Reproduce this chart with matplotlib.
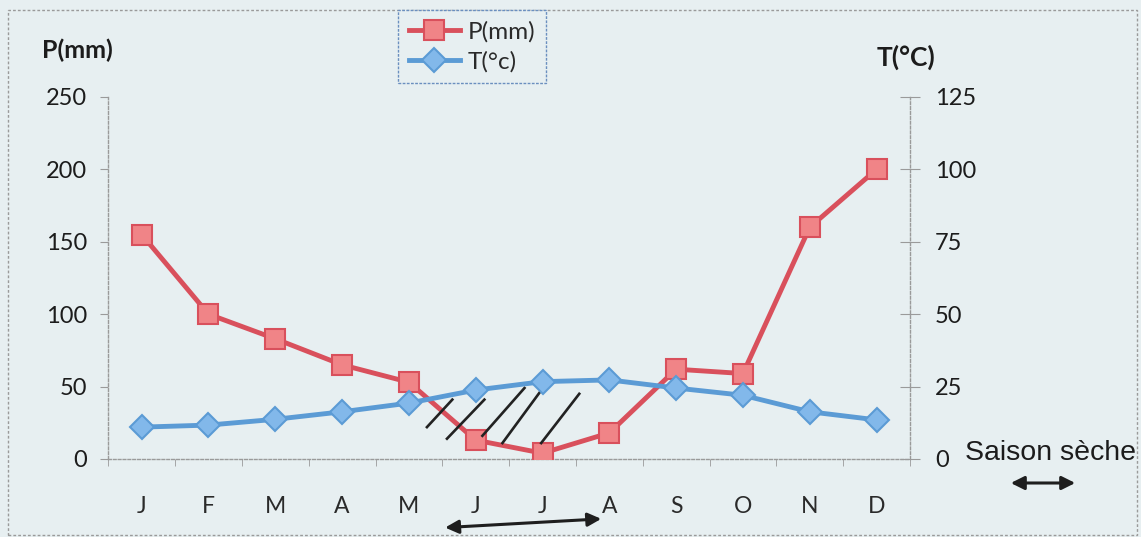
import numpy as np
import matplotlib
matplotlib.use("Agg")
import matplotlib.pyplot as plt
from matplotlib.patches import Rectangle

# monthly climate data
months = ["J", "F", "M", "A", "M", "J", "J", "A", "S", "O", "N", "D"]
precip = [155, 100, 83, 65, 53, 13, 4, 18, 62, 59, 160, 200]          # P(mm)
temp = [11, 11.7, 13.7, 16.3, 19.3, 23.8, 26.7, 27.3, 24.5, 22, 16.3, 13.5]  # T(°C)
p_ticks = [0, 50, 100, 150, 200, 250]
t_ticks = [0, 25, 50, 75, 100, 125]

# hand-drawn hatch strokes over the dry period: (x0, p0, x1, p1) in month index / mm
dry_strokes = [
    (4.27, 22, 4.65, 41),
    (4.57, 14, 5.13, 41),
    (5.10, 16, 5.73, 49),
    (5.40, 11, 5.99, 48),
    (5.98, 11, 6.55, 45),
]
# double arrow under the axis marking the dry season (month index)
dry_span = (4.5, 6.92)

plt.rcParams["font.family"] = ["Lato", "DejaVu Sans"]
bg = "#e7eff1"
red = "#d9505c"
red_face = "#f08487"
blue = "#5b9bd5"
blue_face = "#82b8ea"
grey = "#9a9a9a"
ink = "#1c1c1c"

fig = plt.figure(figsize=(11.41, 5.37), dpi=100, facecolor=bg)
ax = fig.add_axes([0.0949, 0.1453, 0.7026, 0.6741])
ax.set_facecolor(bg)
ax2 = ax.twinx()

x = np.arange(len(months))
lp, = ax.plot(x, precip, color=red, lw=3.5, marker="s", ms=14,
              mfc=red_face, mec=red, mew=1.5, label="P(mm)", zorder=3)
lt, = ax2.plot(x, temp, color=blue, lw=3.5, marker="D", ms=12,
               mfc=blue_face, mec=blue, mew=1.5, label="T(°c)", zorder=3)

for x0, y0, x1, y1 in dry_strokes:
    ax.plot([x0, x1], [y0, y1], color="#222222", lw=1.9, zorder=4)

ax.set_xlim(-0.5, 11.5)
ax.set_ylim(0, 250)
ax2.set_ylim(0, 125)

ax.set_xticks(x)
ax.set_xticklabels(months, fontsize=16.5, color="#2a2a2a")
ax.tick_params(axis="x", length=0, pad=27)
ax.set_xticks(np.arange(-0.5, 12, 1), minor=True)
ax.tick_params(axis="x", which="minor", length=5, color=grey, direction="out")

ax.set_yticks(p_ticks)
ax.set_yticklabels([str(v) for v in p_ticks], fontsize=17, color=ink)
ax.tick_params(axis="y", length=6, color=grey, direction="out", pad=9)

ax2.set_yticks(t_ticks)
ax2.set_yticklabels([str(v) for v in t_ticks], fontsize=17, color=ink)
ax2.tick_params(axis="y", length=14, color=grey, direction="inout", pad=11)

for a in (ax, ax2):
    a.spines["top"].set_visible(False)
    for s in ("left", "right", "bottom"):
        a.spines[s].set_color(grey)
        a.spines[s].set_linestyle((0, (2, 1.5)))
        a.spines[s].set_linewidth(1.0)
ax.spines["right"].set_visible(False)
ax2.spines["left"].set_visible(False)
ax2.spines["bottom"].set_visible(False)

fig.text(42 / 1141, 1 - 58 / 537, "P(mm)", fontsize=18, fontweight="bold",
         color=ink, va="baseline")
fig.text(877 / 1141, 1 - 66 / 537, "T(°C)", fontsize=19, fontweight="bold",
         color=ink, va="baseline")
fig.text(965 / 1141, 1 - 460 / 537, "Saison sèche", fontsize=20.5,
         family=["Liberation Sans", "DejaVu Sans"], color=ink,
         va="baseline")

# dry season arrows
ax.annotate("", xy=(dry_span[1], -0.165), xytext=(dry_span[0], -0.19),
            xycoords=("data", "axes fraction"), textcoords=("data", "axes fraction"),
            arrowprops=dict(arrowstyle="<|-|>", color="#1e1e1e", lw=2.2,
                            mutation_scale=20), annotation_clip=False)
ax.annotate("", xy=(1078 / 1141, 1 - 483 / 537), xytext=(1008 / 1141, 1 - 483 / 537),
            xycoords="figure fraction", textcoords="figure fraction",
            arrowprops=dict(arrowstyle="<|-|>", color="#1e1e1e", lw=2.2,
                            mutation_scale=20), annotation_clip=False)

leg = fig.legend([lp, lt], ["P(mm)", "T(°c)"], loc="upper left",
                 bbox_to_anchor=(398 / 1141, 1 - 10 / 537), borderaxespad=0,
                 fontsize=17.5, frameon=True, fancybox=False, facecolor=bg,
                 edgecolor="#6b8fbf", framealpha=1, handlelength=2.1,
                 labelspacing=0.35, borderpad=0.45, handletextpad=0.3)
leg.get_frame().set_linestyle((0, (2, 1)))
for t in leg.get_texts():
    t.set_color("#2a2a2a")

# dotted frame round the whole chart
fig.patches.append(Rectangle((8 / 1141, 2 / 537), 1129 / 1141, 525 / 537,
                             transform=fig.transFigure, fill=False,
                             edgecolor=grey, lw=1.0, linestyle=(0, (2, 1.5))))

fig.savefig("out.png", dpi=100, facecolor=bg)
